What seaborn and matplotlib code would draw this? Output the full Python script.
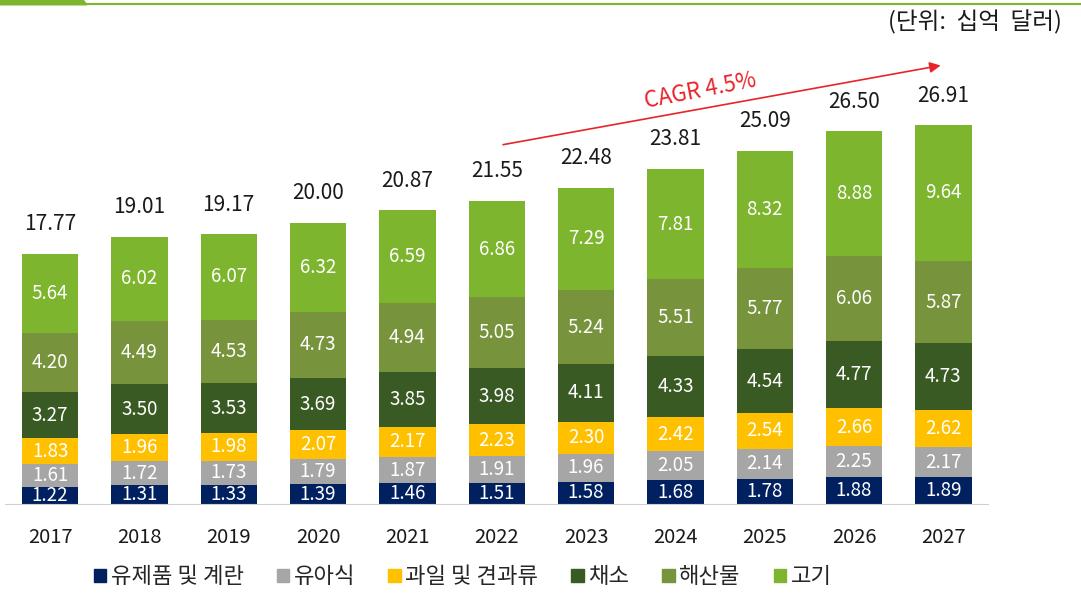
import numpy as np
import pandas as pd
import matplotlib.pyplot as plt
import matplotlib.patches as mpatches
import seaborn as sns

years = ['2017', '2018', '2019', '2020', '2021', '2022', '2023', '2024', '2025', '2026', '2027']
categories = ['유제품 및 계란', '유아식', '과일 및 견과류', '채소', '해산물', '고기']
dairy = [1.22, 1.31, 1.33, 1.39, 1.46, 1.51, 1.58, 1.68, 1.78, 1.88, 1.89]
baby = [1.61, 1.72, 1.73, 1.79, 1.87, 1.91, 1.96, 2.05, 2.14, 2.25, 2.17]
fruit = [1.83, 1.96, 1.98, 2.07, 2.17, 2.23, 2.30, 2.42, 2.54, 2.66, 2.62]
veg = [3.27, 3.50, 3.53, 3.69, 3.85, 3.98, 4.11, 4.33, 4.54, 4.77, 4.73]
seafood = [4.20, 4.49, 4.53, 4.73, 4.94, 5.05, 5.24, 5.51, 5.77, 6.06, 5.87]
meat = [5.64, 6.02, 6.07, 6.32, 6.59, 6.86, 7.29, 7.81, 8.32, 8.88, 9.64]
totals = [17.77, 19.01, 19.17, 20.00, 20.87, 21.55, 22.48, 23.81, 25.09, 26.50, 26.91]
colors = ['#002060', '#A6A6A6', '#FFC000', '#3A5A24', '#77933C', '#7DB52E']

sns.set_style('white')
plt.rcParams['font.family'] = ['Noto Sans CJK KR', 'DejaVu Sans']

series = [dairy, baby, fruit, veg, seafood, meat]
df = pd.DataFrame(dict(zip(categories, series)), index=years)
cum = df.cumsum(axis=1)

fig = plt.figure(figsize=(10.81, 5.97), dpi=100)
ax = fig.add_axes([0.005, 0.156, 0.909, 0.754])

# draw cumulative heights from top category down so they stack
for cat, col in reversed(list(zip(categories, colors))):
    sns.barplot(x=years, y=cum[cat].values, color=col, width=0.63,
                saturation=1, ax=ax, linewidth=0)

for i, yr in enumerate(years):
    for cat in categories:
        v = df.loc[yr, cat]
        ax.text(i, cum.loc[yr, cat] - v / 2, f'{v:.2f}', ha='center', va='center',
                color='white', fontsize=13.5)
    ax.text(i, totals[i] + 2.1, f'{totals[i]:.2f}', ha='center', va='center',
            color='#1a1a1a', fontsize=15)

ax.set_xlim(-0.5, 10.5)
ax.set_ylim(0, 32)
ax.set_yticks([])
ax.set_ylabel('')
ax.tick_params(axis='x', length=0, pad=17, labelsize=14.5, labelcolor='#1a1a1a')
for s in ['left', 'right', 'top']:
    ax.spines[s].set_visible(False)
ax.spines['bottom'].set_color('#D0D0D0')

# CAGR arrow
ax.annotate('', xy=(10.0, 31.2), xytext=(5.04, 25.5),
            arrowprops=dict(arrowstyle='-|>', color='#E8242A', lw=1.2,
                            mutation_scale=16))
ax.text(7.28, 29.4, 'CAGR 4.5%', color='#E8242A', fontsize=16,
        rotation=11, ha='center', va='center')

# legend
handles = [mpatches.Patch(color=c, label=l) for c, l in zip(colors, categories)]
fig.legend(handles=handles, loc='center', bbox_to_anchor=(0.428, 0.034), ncol=6,
           frameon=False, fontsize=16, handlelength=0.55, handleheight=0.55,
           handletextpad=0.2, columnspacing=1.5)

# unit note and header decoration
fig.text(0.982, 0.962, '(단위:  십억  달러)', ha='right', va='center', fontsize=17,
         color='#1a1a1a')
fig.add_artist(plt.Line2D([0, 1], [0.9925, 0.9925], color='#7DB52E', lw=1.5,
                          transform=fig.transFigure))
fig.add_artist(mpatches.Polygon([[0, 1], [0.0768, 1], [0.0805, 0.992], [0, 0.992]],
                                closed=True, color='#7DB52E', transform=fig.transFigure))

fig.savefig('out.png', dpi=100)
